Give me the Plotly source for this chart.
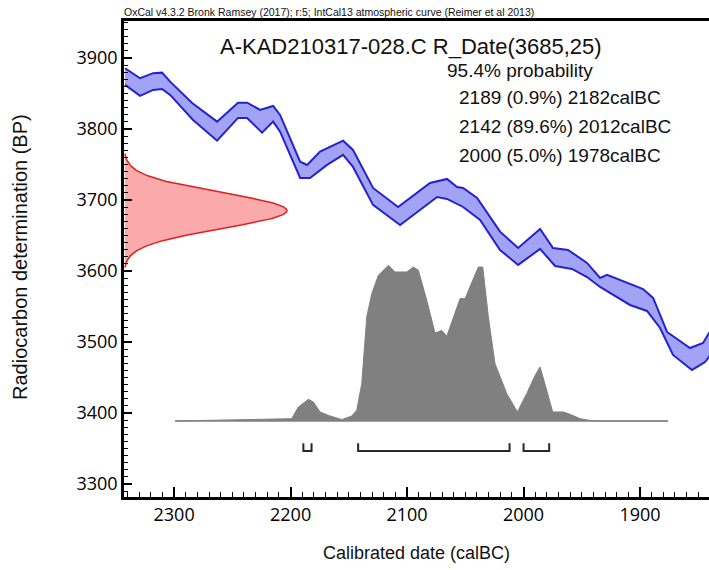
import math
import plotly.graph_objects as go

# ---------------- data ----------------
upper_year = [2342.1, 2329.2, 2318.0, 2310.3, 2303.4, 2284.5, 2263.1, 2245.1, 2237.3, 2226.2,
              2215.0, 2209.0, 2191.8, 2185.8, 2174.7, 2154.9, 2146.4, 2129.2, 2107.7, 2080.3,
              2065.7, 2057.1, 2051.9, 2039.9, 2028.8, 2020.2, 2004.7, 1985.8, 1974.7, 1961.8,
              1945.5, 1934.3, 1928.3, 1911.2, 1897.4, 1888.8, 1876.8, 1857.1, 1845.9, 1840.8, 1836.0]
upper_bp = [3885.5, 3871.4, 3878.5, 3879.3, 3866.6, 3836.6, 3810.3, 3837.0, 3837.0, 3826.8,
            3832.4, 3819.7, 3753.9, 3749.3, 3768.0, 3783.5, 3770.4, 3716.9, 3690.1, 3723.9,
            3729.6, 3718.3, 3716.9, 3702.8, 3676.1, 3655.4, 3632.4, 3659.2, 3632.4, 3629.6,
            3611.3, 3590.1, 3594.4, 3583.1, 3574.6, 3562.0, 3514.1, 3491.5, 3498.6, 3512.7, 3522.0]
lower_year = [2342.1, 2329.2, 2318.0, 2310.3, 2303.4, 2283.7, 2263.1, 2245.1, 2237.3, 2224.5,
              2215.0, 2209.0, 2191.8, 2183.3, 2168.7, 2154.9, 2146.4, 2129.2, 2106.0, 2074.2,
              2065.7, 2051.9, 2037.3, 2020.2, 2004.7, 1985.8, 1972.9, 1958.4, 1945.5, 1934.3,
              1908.6, 1894.0, 1882.8, 1871.7, 1855.4, 1844.2, 1840.8, 1836.0]
lower_bp = [3862.0, 3846.5, 3854.9, 3856.3, 3847.9, 3812.7, 3783.5, 3815.5, 3815.5, 3794.8,
            3810.3, 3796.2, 3731.0, 3731.0, 3749.3, 3763.4, 3746.5, 3693.0, 3664.8, 3704.2,
            3701.4, 3690.1, 3671.8, 3629.6, 3608.5, 3631.0, 3607.0, 3602.8, 3591.5, 3577.5,
            3552.1, 3543.7, 3519.7, 3481.7, 3460.6, 3471.8, 3478.9, 3488.0]

# calibrated probability (relative to max)
prob_year = [2299.1, 2199.0, 2193.3, 2184.7, 2180.4, 2174.7, 2167.5, 2156.0, 2147.5, 2143.2,
             2138.9, 2134.6, 2130.3, 2124.6, 2116.0, 2110.3, 2100.3, 2094.6, 2090.3, 2083.1,
             2076.0, 2070.2, 2065.9, 2060.3, 2054.5, 2050.2, 2044.5, 2038.8, 2035.0, 2030.2,
             2024.5, 2014.4, 2005.3, 1997.3, 1990.1, 1985.8, 1980.1, 1975.0, 1965.8, 1960.1,
             1951.5, 1940.1, 1875.9]
prob_val = [0.0, 0.015, 0.09, 0.139, 0.122, 0.058, 0.036, 0.009, 0.032, 0.069,
            0.24, 0.668, 0.818, 0.936, 1.0, 0.957, 0.957, 0.989, 0.968, 0.775,
            0.565, 0.582, 0.544, 0.668, 0.786, 0.786, 0.893, 0.989, 0.989, 0.668,
            0.368, 0.176, 0.058, 0.176, 0.293, 0.347, 0.197, 0.058, 0.058, 0.043,
            0.015, 0.0, 0.0]

# radiocarbon measurement
rdate_mean = 3685
rdate_sd = 25

# 95.4% ranges (from, to) calBC
range_from = [2189, 2142, 2000]
range_to = [2182, 2012, 1978]
range_pct = ["0.9%", "89.6%", "5.0%"]

x_tick_step = 100
y_tick_step = 100

# ---------------- layout / style constants ----------------
W, H = 709, 570
L, R, T, B = 124, 0, 21, 73
PW, PH = W - L - R, H - T - B
X_RANGE = [2343, 1840.8]
Y_RANGE = [3281.7, 3952]

HIST_BASE = 3388.7
HIST_HEIGHT = 219.3
GAUSS_LEFT = X_RANGE[0]
GAUSS_WIDTH = 139.9
BR_LOW, BR_HIGH = 3346.5, 3357.5

def px(xp):
    return (xp - L) / PW

def py(yp):
    return 1 - (yp - T) / PH

FONT = "Liberation Sans"

fig = go.Figure()

# calibration curve band
band_x = upper_year + lower_year[::-1]
band_y = upper_bp + lower_bp[::-1]
fig.add_trace(go.Scatter(x=band_x, y=band_y, mode="lines", fill="toself",
                         fillcolor="rgb(163,163,245)", line=dict(color="rgb(163,163,245)", width=0.5),
                         showlegend=False))
for yr, bp in ((upper_year, upper_bp), (lower_year, lower_bp)):
    fig.add_trace(go.Scatter(x=yr, y=bp, mode="lines",
                             line=dict(color="rgb(35,35,205)", width=2), showlegend=False))

# radiocarbon measurement on the left axis (plain python lists)
n = 161
g_bp = [rdate_mean - 3.2 * rdate_sd + i * (6.4 * rdate_sd) / (n - 1) for i in range(n)]
g_val = [math.exp(-0.5 * ((v - rdate_mean) / rdate_sd) ** 2) for v in g_bp]
g_x = [GAUSS_LEFT - v * GAUSS_WIDTH for v in g_val]
fig.add_trace(go.Scatter(x=g_x, y=g_bp, mode="lines",
                         fill="toself", fillcolor="rgb(250,170,170)",
                         line=dict(color="rgb(225,30,30)", width=1.5), showlegend=False))

# calibrated distribution
fig.add_trace(go.Scatter(x=[prob_year[0], prob_year[-1]], y=[HIST_BASE, HIST_BASE],
                         mode="lines", line=dict(color="rgb(160,160,160)", width=2), showlegend=False))
fig.add_trace(go.Scatter(x=prob_year, y=[HIST_BASE + p * HIST_HEIGHT for p in prob_val],
                         mode="lines", fill="toself", fillcolor="rgb(128,128,128)",
                         line=dict(color="rgb(128,128,128)", width=1), showlegend=False))

# range brackets
for a, b in zip(range_from, range_to):
    fig.add_trace(go.Scatter(x=[a, a, b, b], y=[BR_HIGH, BR_LOW, BR_LOW, BR_HIGH],
                             mode="lines", line=dict(color="rgb(40,40,40)", width=2),
                             showlegend=False))

fig.update_layout(
    width=W, height=H,
    margin=dict(l=L, r=R, t=T, b=B),
    plot_bgcolor="white",
    showlegend=False,
    xaxis=dict(range=X_RANGE, tickmode="linear", tick0=2300, dtick=x_tick_step,
               ticks="inside", ticklen=10, tickwidth=2, tickcolor="black",
               showline=True, linewidth=2.5, linecolor="black", mirror=True,
               layer="above traces",
               minor=dict(ticks="inside", ticklen=5, dtick=10, tickcolor="black", tickwidth=1),
               tickfont=dict(size=18, color="black")),
    yaxis=dict(range=Y_RANGE, tickmode="linear", tick0=3300, dtick=y_tick_step,
               ticks="inside", ticklen=8, tickwidth=2, tickcolor="black",
               showline=True, linewidth=2.5, linecolor="black",
               layer="above traces",
               minor=dict(ticks="inside", ticklen=4, dtick=10, tickcolor="black", tickwidth=1),
               tickfont=dict(size=18, color="black")),
)

ann = []
ann.append(dict(text="OxCal v4.3.2 Bronk Ramsey (2017); r:5; IntCal13 atmospheric curve (Reimer et al 2013)",
                x=px(122), y=py(12), xanchor="left", yanchor="middle", size=10.5))
ann.append(dict(text="A-KAD210317-028.C R_Date(%d,%d)" % (rdate_mean, rdate_sd),
                x=px(218), y=py(46), xanchor="left", yanchor="middle", size=22))
ann.append(dict(text="95.4% probability", x=px(445), y=py(71), xanchor="left", yanchor="middle",
                size=19))
for i, (a, b, p) in enumerate(zip(range_from, range_to, range_pct)):
    ann.append(dict(text="%d (%s) %dcalBC" % (a, p, b), x=px(457), y=py(98 + 28.5 * i),
                    xanchor="left", yanchor="middle", size=19))
ann.append(dict(text="Calibrated date (calBC)", x=px(416), y=py(553), xanchor="center",
                yanchor="middle", size=18))
ann.append(dict(text="Radiocarbon determination (BP)", x=px(20), y=py(257), xanchor="center",
                yanchor="middle", textangle=-90, size=20))
for a in ann:
    size = a.pop("size")
    fig.add_annotation(xref="paper", yref="paper", showarrow=False,
                       font=dict(family=FONT, color="#111", size=size), **a)

fig.write_html("out.html")
